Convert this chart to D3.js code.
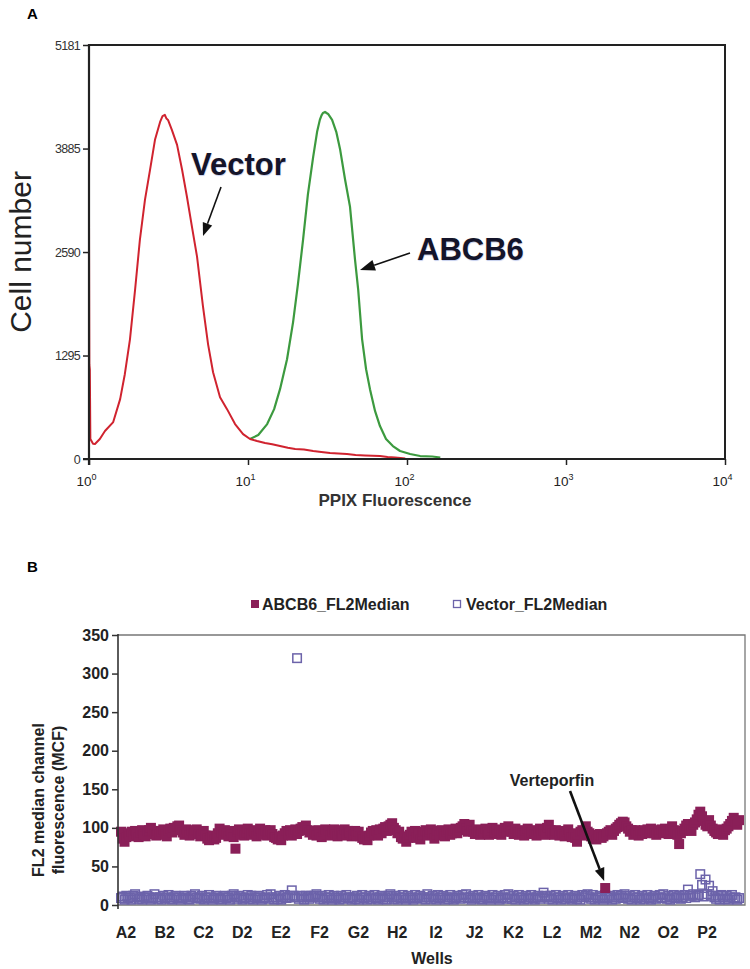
<!DOCTYPE html>
<html>
<head>
<meta charset="utf-8">
<script src="https://cdn.jsdelivr.net/npm/d3@7"></script>
<style>
  body { margin: 0; background: #fff; }
  svg { display: block; font-family: "Liberation Sans", Arial, sans-serif; }
</style>
</head>
<body>
<svg id="fig" width="750" height="969"></svg>
<script>
// ---- panel A: PPIX histograms ----
var yTicksA = [0, 1295, 2590, 3885, 5181];
var xTicksA = [1, 10, 100, 1000, 10000];

var vectorFluor = [1.0, 1.0, 1.005, 1.012, 1.02, 1.06, 1.09, 1.17, 1.26, 1.42, 1.57, 1.68, 1.81, 1.95,
    2.09, 2.25, 2.42, 2.60, 2.80, 2.90, 3.00, 3.07, 3.14, 3.32, 3.58, 3.85, 4.13, 4.45, 4.78, 5.21,
    5.61, 6.03, 6.67, 7.38, 8.29, 9.31, 10.3, 11.4, 12.8, 14.2, 15.9, 17.8, 19.8, 22.5, 25.7, 28.9,
    32.8, 37.0, 41.9, 47.5, 54.4, 60.8, 67.6, 75.5, 84.2, 91.0, 97.5];
var vectorCount = [0, 3020, 1180, 1120, 250, 190, 187, 250, 350, 462, 749, 1061, 1498, 2122,
    2746, 3245, 3619, 3994, 4218, 4290, 4306, 4260, 4243, 4118, 3931, 3619, 3282, 2895, 2533, 1909,
    1435, 1086, 774, 624, 437, 312, 250, 225, 200, 185, 162, 140, 125, 118, 100, 88,
    75, 70, 62, 50, 44, 40, 37, 25, 19, 12, 6];

var abcb6Fluor = [10.3, 11.6, 13.2, 14.6, 15.9, 17.6, 19.2, 20.6, 22.2, 23.8, 25.7, 27.2, 28.3, 29.0,
    29.6, 30.5, 31.2, 31.9, 33.8, 35.9, 38.0, 40.8, 43.8, 47.1, 49.3, 52.2, 55.3, 58.5, 63.0, 67.6,
    73.8, 81.5, 90.4, 104.6, 121, 144, 162];
var abcb6Count = [250, 300, 437, 624, 874, 1248, 1710, 2184, 2746, 3308, 3782, 4094, 4244, 4300,
    4331, 4343, 4330, 4318, 4244, 4094, 3869, 3495, 3158, 2496, 2122, 1498, 1123, 874, 599, 412,
    250, 162, 100, 62, 37, 31, 19];

// ---- panel B: plate screen, 16 rows x 22 wells ----
var plateRows = ["A", "B", "C", "D", "E", "F", "G", "H", "I", "J", "K", "L", "M", "N", "O", "P"];
var wellsPerRow = 22;
var yTicksB = [0, 50, 100, 150, 200, 250, 300, 350];

var abcb6MCF = [
    95, 86, 82, 88, 93, 89, 95, 90, 96, 91, 88, 94, 97, 91, 89, 95, 97, 100, 96, 92, 90, 96,        // A
    91, 95, 98, 92, 89, 96, 99, 94, 100, 97, 102, 103, 97, 94, 91, 98, 94, 90, 97, 93, 96, 98,       // B
    92, 89, 91, 96, 90, 86, 84, 88, 90, 85, 87, 93, 99, 94, 91, 97, 93, 89, 96, 92, 88, 73,         // C
    95, 98, 91, 96, 90, 94, 99, 93, 91, 97, 95, 89, 96, 99, 93, 91, 97, 90, 95, 97, 92, 88,         // D
    87, 85, 89, 84, 90, 93, 96, 91, 97, 90, 95, 98, 92, 96, 99, 101, 98, 103, 97, 94, 96, 91,       // E
    95, 90, 97, 92, 88, 95, 98, 91, 96, 90, 95, 98, 92, 89, 97, 93, 90, 98, 92, 96, 94, 89,         // F
    92, 96, 90, 95, 89, 87, 85, 89, 84, 90, 94, 96, 91, 97, 90, 98, 93, 99, 101, 96, 102, 104,      // G
    106, 100, 97, 93, 95, 88, 86, 89, 82, 87, 91, 95, 89, 96, 87, 93, 85, 91, 95, 97, 90, 95,       // H
    98, 93, 86, 92, 96, 90, 97, 92, 89, 95, 98, 91, 93, 97, 99, 93, 97, 100, 102, 105, 99, 95,      // I
    104, 97, 95, 92, 98, 94, 91, 97, 93, 99, 94, 91, 97, 100, 94, 98, 92, 97, 91, 96, 100, 95,      // J
    102, 97, 95, 92, 99, 94, 91, 97, 93, 90, 96, 99, 92, 94, 97, 92, 90, 96, 99, 93, 97, 91,        // K
    100, 104, 97, 93, 91, 97, 93, 90, 96, 92, 89, 95, 98, 91, 88, 93, 87, 82, 91, 95, 97, 90,       // L
    102, 95, 93, 89, 86, 91, 85, 90, 92, 87, 89, 22, 93, 95, 97, 91, 96, 99, 101, 104, 106, 108,    // M
    107, 102, 99, 95, 97, 91, 97, 93, 90, 96, 92, 97, 93, 98, 94, 99, 96, 93, 91, 97, 93, 98,       // N
    94, 99, 95, 92, 98, 102, 97, 95, 91, 79, 93, 96, 99, 103, 105, 98, 96, 104, 107, 111, 117, 121, // O
    115, 109, 104, 102, 110, 103, 99, 96, 94, 92, 98, 93, 91, 97, 99, 102, 105, 109, 113, 108, 104, 110 // P
];

var vectorMCF = [
    9, 11, 7, 12, 9, 10, 7, 12, 14, 10, 8, 11, 7, 10, 9, 12, 10, 7, 9, 14, 10, 8,        // A
    10, 7, 12, 9, 10, 13, 8, 7, 10, 12, 9, 10, 7, 9, 12, 10, 8, 7, 12, 10, 14, 9,        // B
    10, 8, 12, 7, 10, 9, 13, 10, 7, 9, 12, 10, 8, 7, 10, 12, 9, 10, 7, 12, 14, 10,       // C
    8, 12, 10, 7, 9, 10, 13, 8, 12, 7, 10, 9, 12, 10, 7, 9, 10, 13, 8, 14, 10, 7,        // D
    10, 8, 12, 7, 10, 13, 9, 10, 12, 19, 12, 10, 320, 8, 12, 10, 7, 12, 10, 8, 12, 10,   // E
    12, 14, 10, 8, 12, 7, 10, 9, 13, 10, 7, 12, 9, 10, 7, 12, 8, 10, 13, 9, 10, 7,       // F
    10, 8, 12, 7, 10, 13, 9, 10, 7, 12, 8, 10, 13, 9, 7, 10, 12, 8, 10, 7, 12, 14,       // G
    10, 8, 12, 7, 10, 9, 13, 10, 7, 12, 9, 10, 7, 13, 9, 10, 12, 8, 10, 7, 14, 10,       // H
    8, 12, 10, 7, 13, 9, 10, 12, 7, 10, 8, 13, 10, 7, 9, 12, 10, 8, 13, 10, 14, 9,       // I
    10, 7, 12, 9, 10, 13, 8, 7, 10, 12, 9, 10, 7, 13, 9, 10, 12, 7, 9, 10, 13, 8,        // J
    14, 10, 8, 12, 7, 10, 13, 9, 10, 7, 12, 8, 10, 13, 9, 7, 10, 12, 8, 10, 16, 12,      // K
    10, 8, 12, 7, 10, 13, 9, 10, 7, 12, 8, 10, 13, 9, 7, 10, 12, 8, 10, 7, 13, 10,       // L
    12, 14, 10, 8, 13, 7, 10, 9, 12, 10, 7, 13, 9, 10, 12, 7, 10, 8, 13, 10, 12, 9,      // M
    14, 10, 8, 12, 7, 10, 13, 9, 10, 7, 12, 8, 10, 13, 9, 7, 10, 12, 8, 10, 13, 9,       // N
    14, 10, 8, 12, 7, 10, 13, 9, 10, 12, 8, 10, 13, 9, 20, 12, 12, 14, 10, 12, 13, 40,   // O
    26, 11, 33, 14, 25, 12, 18, 10, 8, 12, 7, 13, 10, 8, 12, 7, 10, 13, 9, 10, 7, 9      // P
];

var verteporfinWell = 275;

var red = "#d0232f", green = "#3c9a3f";
var abcb6Col = "#8a1f58", vectorCol = "#6c63aa";

var svg = d3.select("#fig");

svg.append("defs").append("style").text(
    ".ann { font-weight: bold; fill: #14142a; text-shadow: 0.5px 0.8px 0.8px rgba(90,120,210,0.35), -0.5px 0 0.8px rgba(230,150,60,0.25); }");

function arrow(g, x1, y1, x2, y2, headLen, headW, width) {
    var a = Math.atan2(y2 - y1, x2 - x1);
    var bx = x2 - headLen * Math.cos(a), by = y2 - headLen * Math.sin(a);
    g.append("line").attr("x1", x1).attr("y1", y1).attr("x2", bx).attr("y2", by)
        .attr("stroke", "#111").attr("stroke-width", width);
    var nx = -Math.sin(a) * headW / 2, ny = Math.cos(a) * headW / 2;
    g.append("path")
        .attr("d", "M" + x2 + "," + y2 + "L" + (bx + nx) + "," + (by + ny) + "L" + (bx - nx) + "," + (by - ny) + "Z")
        .attr("fill", "#111");
}

// ================= Panel A =================
var xA = d3.scaleLog().domain([1, 10000]).range([89, 725]);
var yA = d3.scaleLinear().domain([0, 5181]).range([459, 45]);

var gA = svg.append("g");

gA.append("text").attr("x", 27).attr("y", 19).attr("font-size", 15).attr("font-weight", "bold").text("A");

// box top / right
gA.append("path").attr("d", "M89,45H725V459").attr("fill", "none").attr("stroke", "#222").attr("stroke-width", 2);

var curve = d3.line().x(function (d) { return xA(d[0]); }).y(function (d) { return yA(d[1]); });

gA.append("path")
    .datum(abcb6Fluor.map(function (f, i) { return [f, abcb6Count[i]]; }))
    .attr("d", curve).attr("fill", "none").attr("stroke", green).attr("stroke-width", 2.2)
    .attr("stroke-linejoin", "round");
gA.append("path")
    .datum(vectorFluor.map(function (f, i) { return [f, vectorCount[i]]; }))
    .attr("d", curve).attr("fill", "none").attr("stroke", red).attr("stroke-width", 2)
    .attr("stroke-linejoin", "round");

var axL = gA.append("g").attr("transform", "translate(89,0)")
    .call(d3.axisLeft(yA).tickValues(yTicksA).tickFormat(d3.format("d"))
        .tickSize(6).tickSizeOuter(0).tickPadding(3));
axL.select(".domain").remove();
axL.selectAll("line").attr("stroke", "#222").attr("stroke-width", 1.5);
axL.selectAll("text").attr("font-size", 12.5).attr("fill", "#333").attr("letter-spacing", -0.7);
gA.append("line").attr("x1", 89).attr("x2", 89).attr("y1", 44).attr("y2", 465)
    .attr("stroke", "#222").attr("stroke-width", 2.2);

var axB = gA.append("g").attr("transform", "translate(0,459)")
    .call(d3.axisBottom(xA).tickValues(xTicksA).tickSize(6).tickSizeOuter(0).tickFormat(function () { return ""; }));
axB.select(".domain").remove();
axB.selectAll("line").attr("stroke", "#222").attr("stroke-width", 1.5);
gA.append("line").attr("x1", 83).attr("x2", 726).attr("y1", 459).attr("y2", 459)
    .attr("stroke", "#222").attr("stroke-width", 2.2);
axB.selectAll(".tick").each(function (d) {
    var t = d3.select(this).append("text").attr("x", -3).attr("y", 27)
        .attr("text-anchor", "middle").attr("fill", "#222").attr("font-size", 13.5);
    t.append("tspan").text("10");
    t.append("tspan").attr("font-size", 9).attr("dy", -6).text(Math.round(Math.log10(d)));
});

gA.append("text").attr("transform", "translate(31,252) rotate(-90)")
    .attr("text-anchor", "middle").attr("font-size", 30).attr("fill", "#222").text("Cell number");
gA.append("text").attr("x", 395).attr("y", 506).attr("text-anchor", "middle")
    .attr("font-size", 17).attr("font-weight", "bold").attr("fill", "#333").text("PPIX Fluorescence");

gA.append("text").attr("class", "ann").attr("x", 191).attr("y", 175).attr("font-size", 31).text("Vector");
arrow(gA, 221, 187, 203, 236, 13, 10, 1.6);
gA.append("text").attr("class", "ann").attr("x", 417).attr("y", 260).attr("font-size", 31).text("ABCB6");
arrow(gA, 410, 253, 360, 270, 15, 11, 1.6);

// ================= Panel B =================
var nWells = plateRows.length * wellsPerRow;
var xB = d3.scaleLinear().domain([0, nWells - 1]).range([121, 739]);
var yB = d3.scaleLinear().domain([0, 350]).range([905, 635]);

var gB = svg.append("g");
gB.append("text").attr("x", 27).attr("y", 572).attr("font-size", 15).attr("font-weight", "bold").text("B");

// legend
var leg = gB.append("g").attr("font-size", 16).attr("font-weight", "bold").attr("fill", "#222");
leg.append("rect").attr("x", 251).attr("y", 600).attr("width", 8).attr("height", 8).attr("fill", abcb6Col);
leg.append("text").attr("x", 262).attr("y", 610).text("ABCB6_FL2Median");
leg.append("rect").attr("x", 453.5).attr("y", 600.5).attr("width", 7).attr("height", 7)
    .attr("fill", "none").attr("stroke", vectorCol).attr("stroke-width", 1.3);
leg.append("text").attr("x", 466).attr("y", 610).text("Vector_FL2Median");

// box
gB.append("path").attr("d", "M118,635H745V905H118").attr("fill", "none").attr("stroke", "#777").attr("stroke-width", 1.3);

var s = 10;
gB.append("g").selectAll("rect").data(vectorMCF).join("rect")
    .attr("x", function (d, i) { return xB(i) - s / 2 + 0.75; })
    .attr("y", function (d) { return yB(d) - s / 2 + 0.75; })
    .attr("width", s - 1.5).attr("height", s - 1.5)
    .attr("fill", "none").attr("stroke", vectorCol).attr("stroke-width", 1.5);

gB.append("g").selectAll("rect").data(abcb6MCF).join("rect")
    .attr("x", function (d, i) { return xB(i) - s / 2; })
    .attr("y", function (d) { return yB(d) - s / 2; })
    .attr("width", s).attr("height", s)
    .attr("fill", abcb6Col);

var ayB = gB.append("g").attr("transform", "translate(118,0)")
    .call(d3.axisLeft(yB).tickValues(yTicksB).tickSize(6).tickSizeOuter(0).tickPadding(3));
ayB.select(".domain").remove();
ayB.selectAll("line").attr("stroke", "#333").attr("stroke-width", 1.5);
ayB.selectAll("text").attr("font-size", 16).attr("font-weight", "bold").attr("fill", "#222")
    .attr("font-family", "Liberation Sans, Arial, sans-serif");
gB.append("line").attr("x1", 118).attr("x2", 118).attr("y1", 634).attr("y2", 909)
    .attr("stroke", "#333").attr("stroke-width", 1.6);

// row labels
gB.append("g").selectAll("text").data(plateRows).join("text")
    .attr("x", function (d, i) { return xB(i * wellsPerRow) + 5; })
    .attr("y", 938).attr("text-anchor", "middle")
    .attr("font-size", 16).attr("font-weight", "bold").attr("fill", "#222")
    .text(function (d) { return d + "2"; });

gB.append("text").attr("x", 432).attr("y", 964).attr("text-anchor", "middle")
    .attr("font-size", 16).attr("font-weight", "bold").attr("fill", "#222").text("Wells");

var yt = gB.append("text").attr("transform", "translate(0,800) rotate(-90)")
    .attr("text-anchor", "middle").attr("font-size", 16).attr("font-weight", "bold").attr("fill", "#222");
yt.append("tspan").attr("x", 0).attr("y", 44).text("FL2 median channel");
yt.append("tspan").attr("x", 0).attr("y", 64).text("fluorescence (MCF)");

// Verteporfin callout
var vx = xB(verteporfinWell), vy = yB(abcb6MCF[verteporfinWell]);
gB.append("text").attr("x", 552).attr("y", 786).attr("text-anchor", "middle")
    .attr("font-size", 16).attr("font-weight", "bold").attr("fill", "#222").text("Verteporfin");
arrow(gB, 570, 791, vx - 1, vy - 7, 13, 10, 2.6);
</script>
</body>
</html>
